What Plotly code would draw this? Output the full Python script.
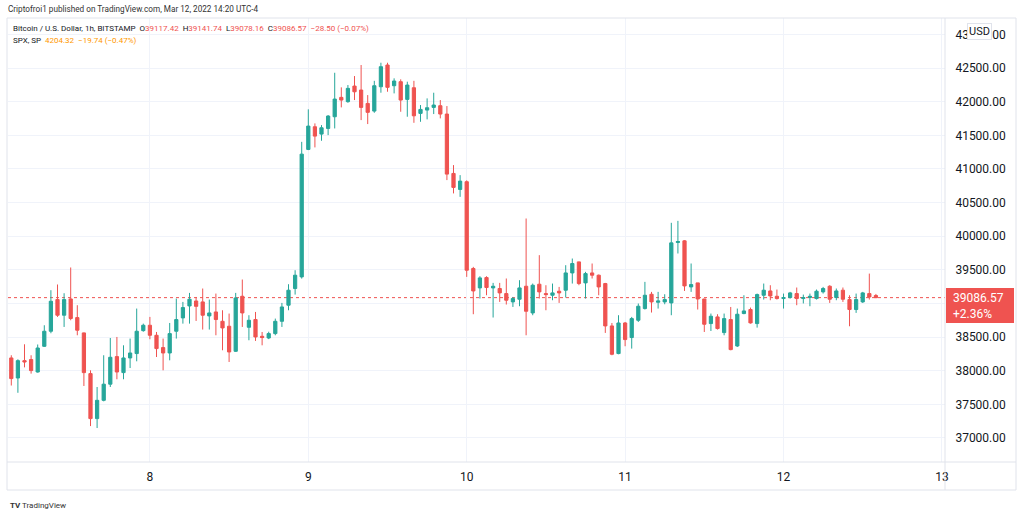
import plotly.graph_objects as go
import pandas as pd

# ---- data (BTC/USD 1h, Bitstamp) ----
start_time = "2022-03-07 03:00"
opens = [38190, 37892, 38150, 38166, 37981, 38363, 38587, 39058, 38825, 39067,
         38790, 38562, 37957, 37288, 37560, 37800, 38210, 37972, 38190, 38255,
         38596, 38676, 38527, 38344, 38264, 38587, 38785, 38963, 39037, 39023,
         38815, 38874, 38735, 38661, 38289, 39107, 38646, 38761, 38512, 38487,
         38552, 38735, 38974, 39222, 39395, 41290, 41627, 41518, 41602, 41776,
         42064, 42000, 42232, 42173, 41974, 41860, 42222, 42545, 42237, 42297,
         42034, 42207, 41826, 41875, 41915, 41940, 41816, 40933, 40695, 40810,
         39520, 39231, 39385, 39231, 39222, 39147, 39023, 39063, 39256, 38859,
         39286, 39147, 39122, 39182, 39197, 39454, 39618, 39306, 39454, 39420,
         39296, 38666, 38255, 38710, 38493, 38750, 38924, 39137, 39018, 39023,
         39008, 39906, 39931, 39246, 39306, 39067, 38701, 38800, 38567, 38761,
         38368, 38850, 38910, 38701, 39122, 39186, 39107, 39073, 39088, 39147,
         39073, 39088, 39073, 39172, 39256, 39088, 39197, 39058, 38910, 39023,
         39147, 39117.42]
highs = [38230, 38170, 38393, 38230, 38390, 38676, 39197, 39282, 39152, 39535,
         38974, 38567, 38006, 37758, 38230, 38487, 38502, 38378, 38478, 38924,
         38700, 38800, 38576, 38478, 38710, 39073, 39023, 39157, 39097, 39222,
         39058, 39147, 38899, 38850, 39157, 39356, 38825, 38874, 38576, 38580,
         38775, 39008, 39286, 39494, 41403, 41886, 41677, 41652, 41801, 42430,
         42213, 42247, 42381, 42545, 42098, 42310, 42579, 42579, 42347, 42332,
         42297, 42310, 41950, 42049, 42133, 42024, 41935, 41057, 40908, 40830,
         39544, 39405, 39405, 39306, 39306, 39371, 39097, 39346, 40263, 39296,
         39718, 39271, 39296, 39246, 39569, 39668, 39620, 39470, 39594, 39430,
         39306, 38710, 38825, 38725, 38800, 38999, 39321, 39172, 39172, 39137,
         40199, 40228, 39941, 39594, 39306, 39067, 38850, 38840, 38850, 38948,
         38924, 39122, 38939, 39147, 39296, 39271, 39207, 39147, 39172, 39237,
         39132, 39147, 39207, 39246, 39271, 39222, 39237, 39122, 39147, 39172,
         39444, 39141.74]
lows = [37780, 37672, 38050, 37957, 37972, 38353, 38557, 38800, 38651, 38750,
        38527, 37773, 37177, 37148, 37545, 37758, 37873, 37873, 38040, 38140,
        38580, 38468, 38204, 38006, 38155, 38478, 38700, 38700, 38740, 38612,
        38612, 38527, 38304, 38130, 38279, 38651, 38453, 38443, 38378, 38470,
        38527, 38651, 38899, 39132, 39370, 41280, 41320, 41419, 41503, 41602,
        41915, 41984, 42024, 41726, 41667, 41835, 42133, 42148, 42123, 41850,
        41776, 41686, 41701, 41737, 41816, 41752, 40834, 40636, 40585, 39395,
        38840, 39073, 39122, 38791, 39023, 38984, 38948, 38959, 38527, 38825,
        39073, 38899, 39048, 39008, 39088, 39296, 39271, 39073, 39371, 39122,
        38562, 38230, 38245, 38364, 38329, 38725, 38910, 38865, 38924, 38988,
        38825, 39743, 39186, 39172, 38910, 38576, 38591, 38612, 38527, 38304,
        38353, 38840, 38700, 38641, 39058, 39048, 39058, 38924, 39073, 38974,
        39000, 38959, 39058, 39147, 39008, 39048, 39023, 38661, 38860, 39008,
        39058, 39078.16]
closes = [37883, 38150, 38130, 38002, 38338, 38587, 39033, 38825, 39058, 38776,
          38602, 37972, 37288, 37560, 37800, 38200, 37981, 38190, 38264, 38587,
          38676, 38527, 38329, 38264, 38552, 38761, 38939, 39063, 38957, 38825,
          38859, 38761, 38636, 38279, 39082, 38859, 38750, 38502, 38493, 38552,
          38735, 38948, 39197, 39420, 41220, 41637, 41488, 41612, 41786, 42039,
          42024, 42198, 42147, 41915, 41841, 42237, 42520, 42213, 42307, 42024,
          42247, 41790, 41885, 41910, 41950, 41816, 40923, 40725, 40819, 39494,
          39186, 39380, 39237, 39256, 39157, 39048, 39073, 39231, 38884, 39271,
          39172, 39132, 39157, 39157, 39454, 39594, 39296, 39444, 39420, 39246,
          38666, 38245, 38710, 38463, 38775, 38959, 39122, 39023, 39038, 39058,
          39901, 39921, 39261, 39281, 39067, 38691, 38810, 38627, 38775, 38314,
          38840, 38889, 38711, 39132, 39197, 39112, 39073, 39088, 39157, 39073,
          39088, 39107, 39182, 39222, 39063, 39186, 39063, 38910, 39058, 39157,
          39097, 39086.57]

day_ticks = ["2022-03-08", "2022-03-09", "2022-03-10", "2022-03-11", "2022-03-12", "2022-03-13"]
day_labels = ["8", "9", "10", "11", "12", "13"]
price_ticks = [37000, 37500, 38000, 38500, 39000, 39500, 40000, 40500, 41000, 41500, 42000, 42500, 43000]
price_labels = ["37000.00", "37500.00", "38000.00", "38500.00", "", "39500.00", "40000.00",
                "40500.00", "41000.00", "41500.00", "42000.00", "42500.00", "43000.00"]
last_price = 39086.57
last_change = "+2.36%"

times = pd.date_range(start_time, periods=len(opens), freq="h")

GREEN = "#26a69a"
RED = "#ef5350"
TXT = "#131722"
GRID = "#f0f3fa"
BORDER = "#e0e3eb"
FONT = "Roboto, Open Sans, DejaVu Sans, sans-serif"

fig = go.Figure()
fig.add_trace(go.Candlestick(
    x=times, open=opens, high=highs, low=lows, close=closes,
    increasing=dict(line=dict(color=GREEN, width=1), fillcolor=GREEN),
    decreasing=dict(line=dict(color=RED, width=1), fillcolor=RED),
    whiskerwidth=0, hoverinfo="skip", showlegend=False,
))

W, H = 1024, 517
L, R, T, B = 8, 945, 18, 462
pw, ph = R - L, B - T

def px(x):
    return (x - L) / pw

def py(y):
    return (B - y) / ph

shapes = [
    dict(type="line", xref="paper", yref="y", x0=0, x1=1, y0=last_price, y1=last_price,
         line=dict(color=RED, width=1, dash="dot"), layer="below"),
    dict(type="rect", xref="paper", yref="paper", x0=px(7), x1=px(1016), y0=py(490), y1=py(18),
         line=dict(color=BORDER, width=1)),
    dict(type="line", xref="paper", yref="paper", x0=1, x1=1, y0=py(490), y1=py(18),
         line=dict(color=BORDER, width=1)),
    dict(type="line", xref="paper", yref="paper", x0=px(7), x1=px(1016), y0=0, y1=0,
         line=dict(color=BORDER, width=1)),
    dict(type="rect", xref="paper", yref="paper", x0=px(946), x1=px(1014), y0=py(323), y1=py(288),
         line=dict(width=0), fillcolor=RED),
]

ann = [
    dict(text="Criptofroi1 published on TradingView.com, Mar 12, 2022 14:20 UTC-4",
         xref="paper", yref="paper", x=px(6), y=py(9), xanchor="left", yanchor="middle",
         showarrow=False, font=dict(size=8.2, color="#333333", family=FONT)),
    dict(text=("Bitcoin / U.S. Dollar, 1h, BITSTAMP  "
               f"O<span style='color:{RED}'>39117.42</span>  "
               f"H<span style='color:{RED}'>39141.74</span>  "
               f"L<span style='color:{RED}'>39078.16</span>  "
               f"C<span style='color:{RED}'>39086.57</span>  "
               f"<span style='color:{RED}'>−28.50 (−0.07%)</span>"),
         xref="paper", yref="paper", x=px(11), y=py(29), xanchor="left", yanchor="middle",
         showarrow=False, font=dict(size=8, color=TXT, family=FONT)),
    dict(text="SPX, SP  <span style='color:#ff9800'>4204.32  −19.74 (−0.47%)</span>",
         xref="paper", yref="paper", x=px(11), y=py(40), xanchor="left", yanchor="middle",
         showarrow=False, font=dict(size=8, color=TXT, family=FONT)),
    dict(text="USD", xref="paper", yref="paper", x=px(979), y=py(31), xanchor="center", yanchor="middle",
         showarrow=False, font=dict(size=11, color=TXT, family=FONT),
         bgcolor="white", bordercolor=BORDER, borderwidth=1, borderpad=1),
    dict(text=f"{last_price:.2f}<br>{last_change}", xref="paper", yref="paper",
         x=px(951), y=py(305.5), xanchor="left", yanchor="middle", align="left",
         showarrow=False, font=dict(size=12, color="white", family=FONT)),
    dict(text="<b>TV</b> TradingView", xref="paper", yref="paper", x=px(8), y=py(505),
         xanchor="left", yanchor="middle", showarrow=False,
         font=dict(size=8, color="#333333", family=FONT)),
]

fig.update_layout(
    width=W, height=H,
    margin=dict(l=L, r=W - R, t=T, b=H - B),
    paper_bgcolor="white", plot_bgcolor="white",
    font=dict(family=FONT, color=TXT, size=12),
    shapes=shapes, annotations=ann, showlegend=False,
    hovermode=False,
    xaxis=dict(
        type="date", range=["2022-03-07 02:30", "2022-03-13 00:28"],
        tickvals=day_ticks, ticktext=day_labels,
        showgrid=True, gridcolor=GRID, gridwidth=1,
        ticks="outside", ticklen=4, tickcolor="rgba(0,0,0,0)",
        tickfont=dict(size=12, color=TXT),
        rangeslider=dict(visible=False), zeroline=False, showline=False, fixedrange=True,
    ),
    yaxis=dict(
        side="right", range=[36643, 43244], tickvals=price_ticks, ticktext=price_labels,
        showgrid=True, gridcolor=GRID, gridwidth=1,
        ticks="outside", ticklen=7, tickcolor="rgba(0,0,0,0)",
        tickfont=dict(size=12, color=TXT), zeroline=False, showline=False, fixedrange=True,
    ),
)

fig.write_html("out.html", config={"displayModeBar": False},
               post_script="document.body.style.margin='0';")
